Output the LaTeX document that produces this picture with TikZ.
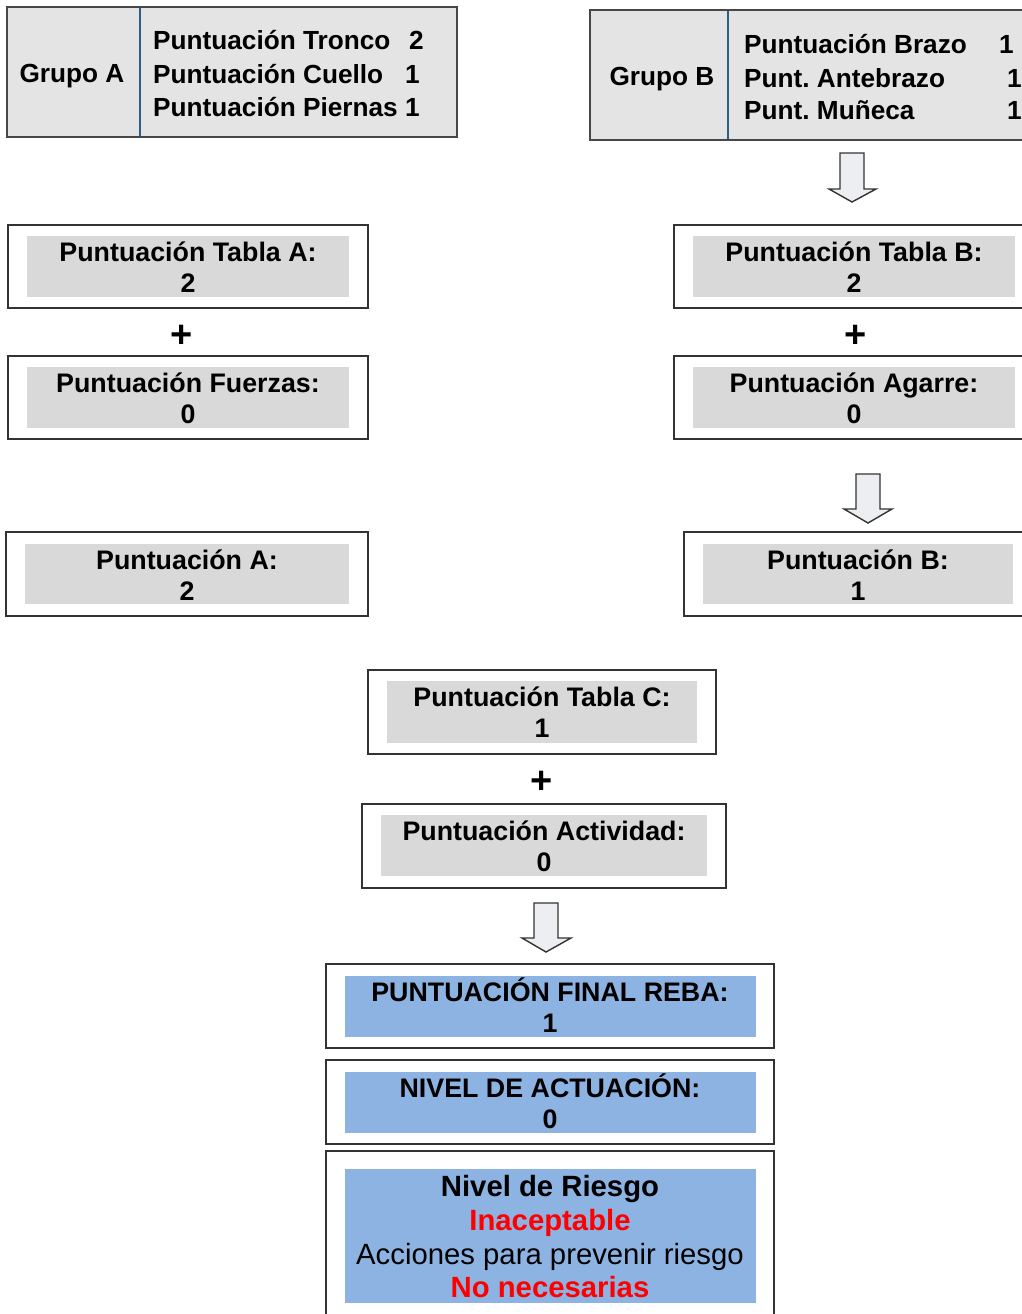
\documentclass[tikz,border=0pt]{standalone}
\usepackage{fontspec}
\setmainfont{Liberation Sans}
\frenchspacing
\definecolor{grpfill}{HTML}{E4E4E4}
\definecolor{innerg}{HTML}{D9D9D9}
\definecolor{innerb}{HTML}{8DB3E2}
\definecolor{divc}{HTML}{2A5F86}
\definecolor{edge}{HTML}{333333}
\definecolor{arrfill}{HTML}{ECEEF2}
\tikzset{
  outerbox/.style={draw=edge, line width=1.4pt, fill=white, rectangle, inner sep=0pt, outer sep=0pt},
  grpbox/.style={draw=edge!90, line width=1.8pt, fill=grpfill, rectangle, inner sep=0pt, outer sep=0pt},
  innerbox/.style={fill=innerg, draw=none, rectangle, inner sep=0pt, outer sep=0pt},
  bluebox/.style={fill=innerb, draw=none, rectangle, inner sep=0pt, outer sep=0pt},
  txt/.style={anchor=base, inner sep=0pt, font=\fontsize{26.8}{31}\selectfont\bfseries},
  gtxt/.style={anchor=base, inner sep=0pt, font=\fontsize{26.2}{31}\selectfont\bfseries},
  txtw/.style={anchor=base west, inner sep=0pt, font=\fontsize{26.2}{31}\selectfont\bfseries},
  txte/.style={anchor=base east, inner sep=0pt, font=\fontsize{26.2}{31}\selectfont\bfseries},
  bigb/.style={anchor=base, inner sep=0pt, font=\fontsize{29.3}{34}\selectfont\bfseries},
  bigr/.style={anchor=base, inner sep=0pt, font=\fontsize{29.3}{34}\selectfont},
  plus/.style={inner sep=0pt, font=\fontsize{38}{40}\selectfont\bfseries},
  blockarrow/.style={draw=edge, fill=arrfill, line width=1.4pt, line join=miter}
}
\begin{document}
\begin{tikzpicture}[x=1pt,y=-1pt]
\useasboundingbox (0,0) rectangle (1022,1314);

% ---------- Group A ----------
\node[grpbox, minimum width=450pt, minimum height=130pt] (ga) at (232,72) {};
\draw[divc, line width=2pt] (140,8) -- (140,136);
\node[gtxt] (gaT) at (72,82) {Grupo A};
\node[txtw] (ga1) at (153,50) {Puntuación Tronco};
\node[txtw] (ga2) at (153,83) {Puntuación Cuello};
\node[txtw] (ga3) at (153,116) {Puntuación Piernas};
\node[txte] (ga1n) at (424,50) {2};
\node[txte] (ga2n) at (420,83) {1};
\node[txte] (ga3n) at (420,116) {1};

% ---------- Group B ----------
\node[grpbox, minimum width=460pt, minimum height=130pt] (gb) at (820,75) {};
\draw[divc, line width=2pt] (728,11) -- (728,139);
\node[gtxt] (gbT) at (662,85) {Grupo B};
\node[txtw] (gb1) at (744,54) {Puntuación Brazo};
\node[txtw] (gb2) at (744,87) {Punt. Antebrazo};
\node[txtw] (gb3) at (744,119) {Punt. Muñeca};
\node[txtw] (gb1n) at (999,54) {1};
\node[txtw] (gb2n) at (1007,87) {1};
\node[txtw] (gb3n) at (1007,119) {1};

% ---------- Left column ----------
\node[outerbox, minimum width=360pt, minimum height=83pt] (ta) at (188,266.5) {};
\node[innerbox, minimum width=322pt, minimum height=61pt] (tai) at (188,266.5) {};
\node[txt] (ta1) at (188,261) {Puntuación Tabla A:};
\node[txt] (ta2) at (188,292) {2};

\node[plus] (pa) at (182,336) {+};

\node[outerbox, minimum width=360pt, minimum height=83pt] (fu) at (188,397.5) {};
\node[innerbox, minimum width=322pt, minimum height=61pt] (fui) at (188,397.5) {};
\node[txt] (fu1) at (188,392) {Puntuación Fuerzas:};
\node[txt] (fu2) at (188,423) {0};

\node[outerbox, minimum width=362pt, minimum height=84pt] (pA) at (187,574) {};
\node[innerbox, minimum width=324pt, minimum height=60pt] (pAi) at (187,574) {};
\node[txt] (pA1) at (187,569) {Puntuación A:};
\node[txt] (pA2) at (187,600) {2};

% ---------- Right column ----------
\draw[blockarrow] (840,153) -- (864,153) -- (864,189) -- (876,189) -- (852,202) -- (829,189) -- (840,189) -- cycle;

\node[outerbox, minimum width=366pt, minimum height=83pt] (tb) at (857,266.5) {};
\node[innerbox, minimum width=322pt, minimum height=61pt] (tbi) at (854,266.5) {};
\node[txt] (tb1) at (854,261) {Puntuación Tabla B:};
\node[txt] (tb2) at (854,292) {2};

\node[plus] (pb) at (856,336) {+};

\node[outerbox, minimum width=366pt, minimum height=83pt] (ag) at (857,397.5) {};
\node[innerbox, minimum width=322pt, minimum height=61pt] (agi) at (854,397.5) {};
\node[txt] (ag1) at (854,392) {Puntuación Agarre:};
\node[txt] (ag2) at (854,423) {0};

\draw[blockarrow] (856,474) -- (880,474) -- (880,509) -- (892,509) -- (868,523) -- (844,509) -- (856,509) -- cycle;

\node[outerbox, minimum width=356pt, minimum height=84pt] (pB) at (862,574) {};
\node[innerbox, minimum width=310pt, minimum height=60pt] (pBi) at (858,574) {};
\node[txt] (pB1) at (858,569) {Puntuación B:};
\node[txt] (pB2) at (858,600) {1};

% ---------- Center column ----------
\node[outerbox, minimum width=348pt, minimum height=84pt] (tc) at (542,712) {};
\node[innerbox, minimum width=310pt, minimum height=62pt] (tci) at (542,712) {};
\node[txt] (tc1) at (542,706) {Puntuación Tabla C:};
\node[txt] (tc2) at (542,737) {1};

\node[plus] (pc) at (542,782) {+};

\node[outerbox, minimum width=364pt, minimum height=84pt] (ac) at (544,846) {};
\node[innerbox, minimum width=326pt, minimum height=61pt] (aci) at (544,845.5) {};
\node[txt] (ac1) at (544,840) {Puntuación Actividad:};
\node[txt] (ac2) at (544,871) {0};

\draw[blockarrow] (534,903) -- (558,903) -- (558,938) -- (571,938) -- (546,952) -- (522,938) -- (534,938) -- cycle;

\node[outerbox, minimum width=448pt, minimum height=84pt] (rb) at (550,1006) {};
\node[bluebox, minimum width=411pt, minimum height=61pt] (rbi) at (550.5,1006.5) {};
\node[txt] (rb1) at (550,1001) {PUNTUACIÓN FINAL REBA:};
\node[txt] (rb2) at (550,1032) {1};

\node[outerbox, minimum width=448pt, minimum height=84pt] (nv) at (550,1102) {};
\node[bluebox, minimum width=411pt, minimum height=61pt] (nvi) at (550.5,1102.5) {};
\node[txt] (nv1) at (550,1097) {NIVEL DE ACTUACIÓN:};
\node[txt] (nv2) at (550,1128) {0};

\node[outerbox, minimum width=448pt, minimum height=179pt] (ri) at (550,1240.5) {};
\node[bluebox, minimum width=411pt, minimum height=134pt] (rii) at (550.5,1236) {};
\node[bigb] (ri1) at (550,1196) {Nivel de Riesgo};
\node[bigb, text=red] (ri2) at (550,1230) {Inaceptable};
\node[bigr] (ri3) at (550,1264) {Acciones para prevenir riesgo};
\node[bigb, text=red] (ri4) at (550,1297) {No necesarias};
\end{tikzpicture}
\end{document}
